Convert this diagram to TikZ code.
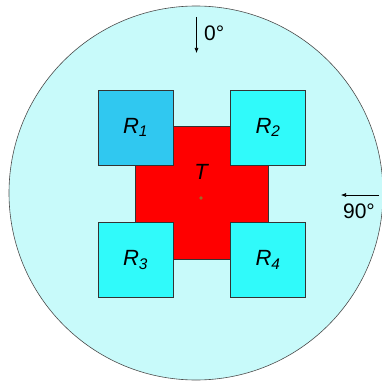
\documentclass[tikz,border=0pt]{standalone}
\usepackage{fontspec}
\setmainfont{Liberation Sans}
\usetikzlibrary{arrows.meta, positioning}
\definecolor{dishcol}{HTML}{C8FAFA}
\definecolor{rdeep}{HTML}{30C8F0}
\definecolor{rcyan}{HTML}{30FAFA}
\definecolor{dotcol}{HTML}{9A6A28}

\begin{document}
\begin{tikzpicture}[x=1pt, y=-1pt,
    rbox/.style={draw=black!80, line width=0.6pt, minimum width=75pt, minimum height=75pt,
                 inner sep=0pt, font=\fontsize{22}{25}\selectfont},
    arr/.style={-{Latex[length=5pt,width=4pt]}, line width=0.6pt},
    deg/.style={font=\fontsize{21}{24}\selectfont, inner sep=1pt}
  ]
    \useasboundingbox (0,0) rectangle (382,385);
    \fill[dishcol] (196,193) circle[radius=187pt];
    \draw[black!70, line width=0.6pt] (196,193) circle[radius=187pt];

    \node[draw=black!80, line width=0.6pt, fill=red, minimum size=133pt, inner sep=0pt] (target) at (202,193) {};
    \node[font=\fontsize{22}{25}\selectfont\itshape] (tlabel) at (201,172) {T};
    \fill[dotcol] (201,198) circle[radius=1.8pt];

    \node[rbox, fill=rdeep] (R1) at (135.5,127.5) {\textit{R}$_{\mathit 1}$};
    \node[rbox, fill=rcyan] (R2) at (268,127.5) {\textit{R}$_{\mathit 2}$};
    \node[rbox, fill=rcyan] (R3) at (135.5,260) {\textit{R}$_{\mathit 3}$};
    \node[rbox, fill=rcyan] (R4) at (268,260) {\textit{R}$_{\mathit 4}$};

    \coordinate (top0) at (196.5,17);
    \coordinate (tip0) at (196.5,53);
    \draw[arr] (top0) -- (tip0);
    \node[deg, anchor=west] (d0) at (203,33) {0°};

    \coordinate (top90) at (379,195);
    \coordinate (tip90) at (341,195);
    \draw[arr] (top90) -- (tip90);
    \node[deg] (d90) at (359,211) {90°};
\end{tikzpicture}
\end{document}
